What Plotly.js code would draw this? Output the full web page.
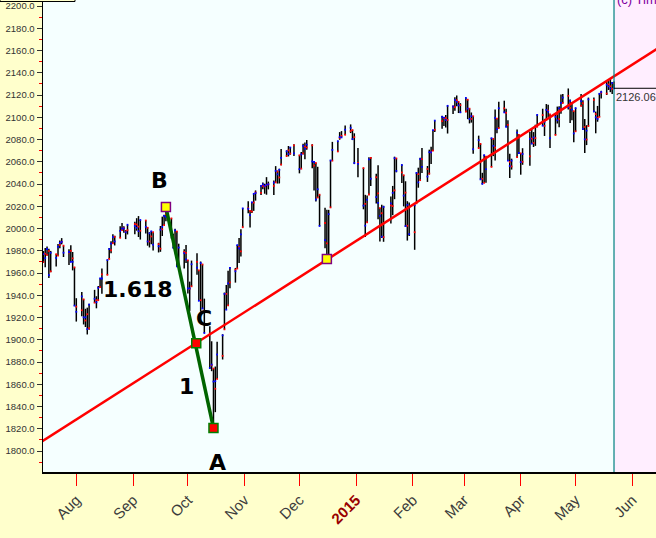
<!DOCTYPE html>
<html>
<head>
<meta charset="utf-8">
<script src="https://cdn.plot.ly/plotly-3.0.1.min.js"></script>
<style>html,body{margin:0;padding:0;background:#FFFFCC;}#chart{width:656px;height:538px;}</style>
</head>
<body>
<div id="chart"></div>
<script>
// ---- trading days (month, day numbers) ----
const tradingDays = [
  ['2014-07', [14,15,16,17,18,21,22,23,24,25,28,29,30,31]],
  ['2014-08', [1,4,5,6,7,8,11,12,13,14,15,18,19,20,21,22,25,26,27,28,29]],
  ['2014-09', [2,3,4,5,8,9,10,11,12,15,16,17,18,19,22,23,24,25,26,29,30]],
  ['2014-10', [1,2,3,6,7,8,9,10,13,14,15,16,17,20,21,22,23,24,27,28,29,30,31]],
  ['2014-11', [3,4,5,6,7,10,11,12,13,14,17,18,19,20,21,24,25,26,28]],
  ['2014-12', [1,2,3,4,5,8,9,10,11,12,15,16,17,18,19,22,23,24,26,29,30,31]],
  ['2015-01', [2,5,6,7,8,9,12,13,14,15,16,20,21,22,23,26,27,28,29,30]],
  ['2015-02', [2,3,4,5,6,9,10,11,12,13,17,18,19,20,23,24,25,26,27]],
  ['2015-03', [2,3,4,5,6,9,10,11,12,13,16,17,18,19,20,23,24,25,26,27,30,31]],
  ['2015-04', [1,2,6,7,8,9,10,13,14,15,16,17,20,21,22,23,24,27,28,29,30]],
  ['2015-05', [1,4,5,6,7,8,11,12,13,14,15,18,19,20,21,22]]
];

const openPrices = [
 1969.9,1977.4,1976.4,1979.8,1961.5,1976.9,1975.7,1985.3,1988.1,1984.6,1978.3,1980.0,1973.2,1965.1,
 1929.8,1926.6,1936.3,1917.3,1923.0,1910.4,1933.4,1935.7,1935.6,1947.4,1958.9,1958.4,1972.7,1980.5,1986.8,1992.6,1991.7,1998.6,2000.5,1997.4,1998.5,
 2004.1,2003.6,2001.7,1998.0,2007.2,2000.7,1988.4,1992.9,1996.7,1986.0,1981.9,1999.3,2003.1,2012.7,2009.1,1992.8,1983.3,1997.3,1966.2,1979.0,1978.2,
 1971.4,1945.8,1948.1,1970.0,1962.4,1935.6,1967.7,1925.6,1905.7,1877.1,1874.2,1856.0,1864.9,1885.6,1909.4,1941.3,1931.0,1951.6,1963.0,1964.1,1983.3,1979.5,2001.2,
 2018.2,2015.8,2015.3,2023.3,2032.4,2032.0,2038.2,2037.8,2039.2,2039.7,2038.3,2041.5,2051.2,2045.9,2057.5,2065.1,2070.2,2067.4,2074.8,
 2065.8,2053.8,2067.5,2073.6,2072.8,2074.8,2056.6,2058.9,2027.9,2030.4,2005.0,1986.7,1973.8,2019.0,2061.0,2069.3,2081.5,2083.3,2084.3,2087.6,2088.5,2082.1,
 2058.9,2054.4,2022.2,2005.6,2030.6,2063.5,2046.1,2031.6,2018.4,2013.8,1992.3,2020.8,2020.2,2034.3,2063.0,2050.4,2047.9,2032.3,2002.5,2019.4,
 1996.7,2022.7,2048.9,2043.5,2062.3,2053.5,2049.4,2068.6,2070.0,2088.8,2096.5,2099.2,2099.3,2097.6,2109.8,2109.1,2115.3,2113.9,2110.9,
 2105.2,2115.8,2107.7,2098.5,2100.9,2072.3,2076.1,2044.7,2041.1,2064.6,2055.4,2080.6,2072.8,2098.7,2090.3,2108.0,2103.9,2093.1,2059.9,2055.8,2064.1,2084.1,
 2067.6,2060.0,2064.9,2080.8,2076.9,2081.3,2091.5,2102.0,2092.3,2097.8,2106.0,2102.6,2084.1,2102.8,2098.3,2107.2,2112.8,2119.3,2108.4,2112.5,2105.5,
 2087.4,2110.2,2112.6,2091.3,2080.0,2092.1,2115.6,2102.9,2099.6,2100.4,2122.1,2121.3,2129.5,2127.8,2125.6,2130.4
];
const highPrices = [
 1979.9,1982.5,1983.9,1981.8,1979.9,1976.9,1986.2,1989.2,1991.4,1984.6,1981.5,1984.9,1978.9,1965.1,
 1937.4,1942.9,1936.3,1927.9,1928.9,1932.4,1944.9,1939.2,1948.4,1955.2,1964.0,1972.0,1982.6,1988.6,1994.8,1993.5,2002.0,2005.0,2002.1,1998.6,2003.4,
 2006.1,2009.3,2011.2,2007.7,2007.2,2001.0,1996.7,1997.7,1996.7,1987.2,2002.3,2010.7,2012.3,2019.3,2009.1,1995.4,1999.8,1997.3,1986.4,1981.3,1985.2,
 1971.4,1952.3,1971.2,1977.8,1962.4,1970.4,1967.7,1937.0,1912.1,1898.7,1874.2,1876.0,1898.2,1905.0,1942.5,1949.3,1962.0,1965.3,1964.6,1985.1,1991.4,1999.4,2018.2,
 2024.5,2016.0,2023.8,2031.6,2034.3,2038.7,2041.3,2040.3,2046.2,2042.2,2043.1,2056.1,2052.1,2053.8,2071.5,2070.2,2074.2,2073.3,2075.8,
 2065.8,2068.8,2076.3,2077.3,2079.5,2075.8,2060.6,2058.9,2055.5,2030.4,2018.7,2016.9,2016.8,2061.2,2077.9,2078.8,2086.7,2087.6,2092.7,2093.6,2088.5,2085.6,
 2072.4,2054.4,2030.3,2029.6,2064.1,2064.4,2049.3,2056.9,2018.4,2021.4,2020.5,2028.9,2038.3,2064.6,2063.0,2057.6,2047.9,2042.5,2024.6,2023.3,
 2021.7,2050.3,2054.7,2063.6,2072.4,2056.2,2070.9,2073.5,2088.5,2097.0,2101.3,2100.2,2102.1,2110.6,2110.1,2117.9,2119.6,2113.9,2112.7,
 2117.5,2115.8,2107.7,2104.3,2100.9,2083.5,2076.1,2050.1,2066.4,2064.6,2081.4,2080.6,2106.9,2098.7,2113.9,2114.9,2107.6,2097.4,2067.2,2062.8,2089.0,2084.1,
 2067.6,2072.2,2087.0,2089.8,2086.7,2093.3,2102.6,2107.7,2098.6,2111.9,2111.3,2102.6,2103.9,2109.6,2110.0,2120.5,2120.9,2125.9,2116.0,2113.6,2105.5,
 2108.4,2121.0,2115.2,2098.4,2092.9,2117.7,2117.7,2105.1,2110.2,2121.5,2123.9,2131.8,2133.0,2134.7,2131.8,2132.2
];
const lowPrices = [
 1969.9,1965.3,1975.7,1955.6,1960.8,1965.8,1975.7,1982.4,1985.8,1974.4,1967.3,1969.9,1962.4,1930.7,
 1916.4,1921.2,1913.8,1911.5,1904.8,1909.0,1933.4,1928.3,1935.6,1947.4,1941.5,1958.4,1972.7,1977.7,1986.8,1984.8,1991.7,1998.6,1996.2,1990.5,1994.7,
 1994.9,1998.1,1992.4,1990.1,1995.6,1984.6,1983.0,1985.9,1980.3,1978.5,1979.1,1993.3,2003.1,2006.6,1991.0,1982.4,1978.6,1966.0,1966.2,1964.0,1969.0,
 1941.7,1926.0,1948.1,1958.4,1935.1,1925.3,1927.6,1906.1,1874.1,1871.8,1820.7,1835.0,1864.9,1882.3,1909.4,1927.1,1931.0,1946.3,1951.4,1964.1,1969.0,1974.8,2001.2,
 2013.7,2001.0,2014.0,2015.9,2025.1,2030.2,2035.3,2031.3,2030.4,2035.2,2030.2,2041.5,2040.4,2040.5,2056.8,2065.1,2064.8,2066.4,2065.1,
 2049.6,2053.8,2066.6,2062.3,2070.8,2054.3,2034.2,2024.3,2027.9,2002.3,1982.3,1972.6,1973.8,2019.0,2061.0,2069.3,2079.8,2081.9,2084.3,2085.8,2079.5,2057.9,
 2046.0,2017.3,1992.4,2005.6,2030.6,2038.3,2022.6,2008.3,1988.4,1991.5,1988.1,2004.5,2012.0,2026.4,2050.5,2041.0,2019.9,2001.5,1989.2,1993.4,
 1980.9,2022.7,2036.7,2043.5,2050.0,2041.9,2048.6,2058.0,2070.0,2086.7,2089.8,2092.2,2090.8,2085.4,2103.0,2105.9,2109.9,2103.8,2103.8,
 2104.5,2098.3,2094.5,2095.2,2067.3,2072.2,2044.2,2039.7,2041.1,2041.2,2055.4,2065.1,2061.2,2085.6,2090.3,2104.4,2091.5,2061.1,2045.5,2053.0,2064.1,2067.0,
 2048.4,2057.3,2056.5,2076.1,2073.3,2074.3,2091.5,2092.3,2083.2,2097.8,2100.0,2072.4,2084.1,2094.4,2091.1,2103.2,2112.8,2107.0,2094.9,2097.4,2077.6,
 2087.4,2109.9,2088.5,2067.9,2075.0,2092.1,2104.6,2085.6,2096.0,2100.4,2116.8,2120.0,2124.5,2122.6,2120.9,2126.1
];
const closePrices = [
 1977.1,1973.3,1981.6,1958.1,1978.2,1973.6,1983.5,1987.0,1988.0,1978.3,1978.9,1970.0,1970.1,1930.7,
 1925.2,1939.0,1920.2,1920.2,1909.6,1931.6,1936.9,1933.8,1946.7,1955.2,1955.1,1971.7,1981.6,1986.5,1992.4,1988.4,1997.9,2000.0,2000.1,1996.7,2003.4,
 2002.3,2000.7,1997.7,2007.7,2001.5,1988.4,1995.7,1997.5,1985.5,1984.1,1999.0,2001.6,2011.4,2010.4,1994.3,1982.8,1998.3,1966.0,1982.9,1977.8,1972.3,
 1946.2,1946.2,1967.9,1964.8,1935.1,1968.9,1928.2,1906.1,1874.7,1877.7,1862.5,1862.8,1886.8,1904.0,1941.3,1927.1,1950.8,1964.6,1961.6,1985.1,1982.3,1994.7,2018.1,
 2017.8,2012.1,2023.6,2031.2,2031.9,2038.3,2039.7,2038.3,2039.3,2039.8,2041.3,2051.8,2048.7,2052.8,2063.5,2069.4,2067.0,2072.8,2067.6,
 2053.4,2066.6,2074.3,2071.9,2075.4,2060.3,2059.8,2026.1,2035.3,2002.3,1989.6,1972.7,2012.9,2061.2,2070.7,2078.5,2082.2,2081.9,2088.8,2090.6,2080.4,2058.9,
 2058.2,2020.6,2002.6,2025.9,2062.1,2044.8,2028.3,2023.0,2011.3,1992.7,2019.4,2022.6,2032.1,2063.2,2051.8,2057.1,2029.6,2002.2,2021.3,1995.0,
 2020.9,2050.0,2041.5,2062.5,2055.5,2046.7,2068.6,2068.5,2088.5,2097.0,2100.3,2099.7,2097.5,2110.3,2109.7,2115.5,2113.9,2110.7,2104.5,
 2117.4,2107.8,2098.5,2101.0,2071.3,2079.4,2044.2,2040.2,2065.9,2053.4,2081.2,2074.3,2099.5,2089.3,2108.1,2104.4,2091.5,2061.1,2056.2,2061.0,2086.2,2067.9,
 2059.7,2067.0,2080.6,2076.3,2081.9,2091.2,2102.1,2092.4,2095.8,2106.6,2105.0,2081.2,2100.4,2097.3,2108.0,2112.9,2117.7,2108.9,2114.8,2106.9,2085.5,
 2108.3,2114.5,2089.5,2080.2,2088.0,2116.1,2105.3,2099.9,2098.5,2121.1,2122.7,2129.2,2127.8,2125.9,2130.8,2126.06
];

// ---- axis ticks ----
const monthTicks = ['2014-08-01','2014-09-01','2014-10-01','2014-11-01','2014-12-01','2015-01-01','2015-02-01','2015-03-01','2015-04-01','2015-05-01','2015-06-01'];
const monthLabels = ['Aug','Sep','Oct','Nov','Dec','2015','Feb','Mar','Apr','May','Jun'];

// ---- annotations data ----
const pivotDates  = ['2014-09-19','2014-10-05 14:00','2014-10-15','2014-12-16'];
const pivotValues = [2019.3, 1897.0, 1820.7, 1972.6];
const trendDates  = ['2014-07-01','2015-07-01'];
const trendValues = [1795.8, 2178.7];
const lastDate    = '2015-05-22';
const lastClose   = 2126.06;
const fibRatio    = '1.618';

// build dates
const dates = [];
tradingDays.forEach(([m, ds]) => ds.forEach(d => dates.push(m + '-' + String(d).padStart(2,'0'))));

const xRange = ['2014-07-13 19:00', '2015-06-13 23:00'];
const yRange = [1781.2, 2205.4];

const ohlc = {
  type: 'ohlc', x: dates, open: openPrices, high: highPrices, low: lowPrices, close: closePrices,
  increasing: {line: {color: '#000000', width: 1.5}},
  decreasing: {line: {color: '#000000', width: 1.5}},
  tickwidth: 0, hoverinfo: 'skip', showlegend: false
};
const openDots = {type:'scatter', mode:'markers', x: dates, y: openPrices,
  marker:{symbol:'square', size:1.8, color:'#FF0000'}, hoverinfo:'skip', showlegend:false};
const closeDots = {type:'scatter', mode:'markers', x: dates, y: closePrices,
  marker:{symbol:'square', size:1.8, color:'#0000FF'}, hoverinfo:'skip', showlegend:false};

const trendLine = {type:'scatter', mode:'lines', x: trendDates, y: trendValues,
  line:{color:'#FF0000', width:2.5}, hoverinfo:'skip', showlegend:false};
const baLine = {type:'scatter', mode:'lines', x:[pivotDates[0], pivotDates[2]], y:[pivotValues[0], pivotValues[2]],
  line:{color:'#006400', width:3.5}, hoverinfo:'skip', showlegend:false};
const pivotMarks = {type:'scatter', mode:'markers', x: pivotDates, y: pivotValues,
  marker:{symbol:'square', size:9, color:['#FFFF00','#FF0000','#FF0000','#FFFF00'],
    line:{color:['#800080','#008000','#008000','#800080'], width:1.5}},
  hoverinfo:'skip', showlegend:false, cliponaxis:false};

const labelFont = {family:'DejaVu Sans, Verdana, sans-serif', size:22, color:'#000000'};
function lab(text, i, dx, dy){
  return {x: pivotDates[i], y: pivotValues[i], xref:'x', yref:'y', text:'<b>'+text+'</b>', showarrow:false,
    xshift:dx, yshift:dy, font: labelFont, xanchor:'center', yanchor:'middle'};
}

const layout = {
  width: 656, height: 538, autosize: false,
  margin: {l:43, r:0, t:0, b:66, pad:0},
  paper_bgcolor: '#FFFFCC', plot_bgcolor: '#F5FFFF',
  showlegend: false, hovermode: false,
  xaxis: {
    type:'date', range: xRange, rangeslider:{visible:false},
    showgrid:false, zeroline:false, showline:true, linecolor:'#000000', linewidth:1.5,
    tickmode:'array', tickvals: monthTicks,
    ticktext: monthLabels.map(t => t === '2015' ? '<b><span style="color:#990000">2015</span></b>' : t),
    ticks:'outside', ticklen:12, tickcolor:'#FF0000', tickwidth:1,
    tickangle:-45, tickfont:{family:'Liberation Sans, Arial, sans-serif', size:15, color:'#3c3c3c'}
  },
  yaxis: {
    range: yRange, showgrid:false, zeroline:false, showline:true, linecolor:'#000000', linewidth:1.5,
    tickmode:'linear', tick0:1800, dtick:20, tickformat:'.1f',
    ticks:'outside', ticklen:5, tickcolor:'#333333', tickwidth:1,
    minor:{dtick:10, tick0:1800, ticks:'outside', ticklen:3, tickcolor:'#FF0000', tickwidth:1, showgrid:false},
    tickfont:{family:'Liberation Sans, Arial, sans-serif', size:9.5, color:'#333333'}
  },
  shapes: [
    {type:'rect', xref:'x', yref:'paper', x0:lastDate, x1:'2015-07-01', y0:0, y1:1,
      fillcolor:'#FFEEFF', line:{width:0}, layer:'below'},
    {type:'line', xref:'x', yref:'paper', x0:lastDate, x1:lastDate, y0:0, y1:1,
      line:{color:'#008080', width:1.2}},
    {type:'line', xref:'x', yref:'y', x0:lastDate, x1:'2015-07-01', y0:lastClose, y1:lastClose,
      line:{color:'#000000', width:1}},
    {type:'rect', xref:'paper', yref:'paper', x0:-43/613, x1:32/613, y0:1-1.5/472, y1:1.05,
      fillcolor:'#FFFFCC', line:{color:'#000000', width:1}}
  ],
  annotations: [
    lab('B', 0, -6, 27),
    lab('C', 1, 8, 25),
    lab(fibRatio, 1, -58, 54),
    lab('1', 1, -10, -43),
    lab('A', 2, 4, -34),
    {x:lastDate, y:lastClose, xref:'x', yref:'y', text: lastClose.toFixed(2), showarrow:false,
      xanchor:'left', yanchor:'top', xshift:0, yshift:-1,
      font:{family:'Liberation Sans, Arial, sans-serif', size:11, color:'#333333'}},
    {x:lastDate, y:1, xref:'x', yref:'paper', text:'(c) Timing', showarrow:false,
      xanchor:'left', yanchor:'middle', xshift:1, yshift:1,
      font:{family:'Liberation Sans, Arial, sans-serif', size:13, color:'#8000A0'}}
  ]
};

Plotly.newPlot('chart', [ohlc, openDots, closeDots, trendLine, baLine, pivotMarks], layout, {staticPlot:true, displayModeBar:false});
</script>
</body>
</html>
